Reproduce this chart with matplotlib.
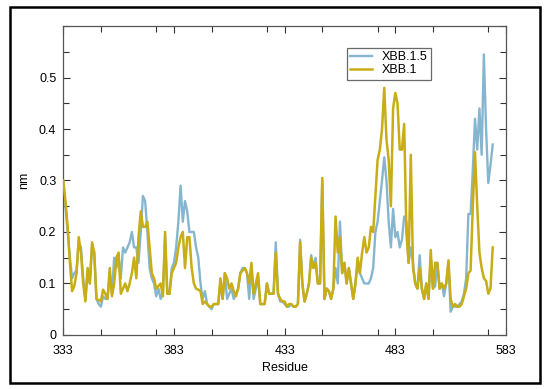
import numpy as np
import matplotlib
matplotlib.use("Agg")
import matplotlib.pyplot as plt
from matplotlib.patches import Rectangle
from matplotlib.ticker import MultipleLocator

plt.rcParams['font.family'] = ['Liberation Sans', 'DejaVu Sans']

first_residue = 333
xbb15 = [
    0.30, 0.25, 0.20, 0.15, 0.11, 0.12, 0.125, 0.18, 0.17, 0.11,   # 333-342
    0.07, 0.12, 0.10, 0.17, 0.16, 0.07, 0.06, 0.055, 0.075, 0.07,  # 343-352
    0.07, 0.12, 0.08, 0.15, 0.13, 0.15, 0.11, 0.17, 0.16, 0.17,    # 353-362
    0.18, 0.20, 0.17, 0.17, 0.14, 0.20, 0.27, 0.26, 0.20, 0.13,    # 363-372
    0.11, 0.10, 0.075, 0.09, 0.07, 0.08, 0.19, 0.08, 0.08, 0.13,   # 373-382
    0.14, 0.17, 0.22, 0.29, 0.22, 0.26, 0.24, 0.20, 0.20, 0.20,    # 383-392
    0.17, 0.15, 0.10, 0.07, 0.085, 0.06, 0.055, 0.05, 0.06, 0.06,  # 393-402
    0.06, 0.10, 0.07, 0.12, 0.07, 0.08, 0.09, 0.07, 0.08, 0.09,    # 403-412
    0.12, 0.13, 0.13, 0.12, 0.07, 0.13, 0.07, 0.09, 0.11, 0.06,    # 413-422
    0.06, 0.06, 0.10, 0.08, 0.08, 0.08, 0.18, 0.08, 0.065, 0.065,  # 423-432
    0.06, 0.055, 0.055, 0.06, 0.055, 0.055, 0.06, 0.185, 0.10, 0.065,  # 433-442
    0.08, 0.10, 0.155, 0.13, 0.15, 0.10, 0.10, 0.30, 0.07, 0.09,   # 443-452
    0.085, 0.07, 0.09, 0.13, 0.10, 0.22, 0.12, 0.14, 0.10, 0.13,   # 453-462
    0.10, 0.07, 0.10, 0.14, 0.12, 0.11, 0.10, 0.10, 0.10, 0.11,    # 463-472
    0.13, 0.20, 0.22, 0.26, 0.30, 0.345, 0.30, 0.22, 0.17, 0.245,  # 473-482
    0.19, 0.20, 0.17, 0.185, 0.23, 0.22, 0.14, 0.17, 0.14, 0.10,   # 483-492
    0.09, 0.155, 0.09, 0.07, 0.10, 0.07, 0.15, 0.09, 0.095, 0.14,  # 493-502
    0.09, 0.10, 0.075, 0.10, 0.14, 0.045, 0.055, 0.055, 0.055, 0.06,  # 503-512
    0.065, 0.08, 0.11, 0.235, 0.235, 0.32, 0.42, 0.36, 0.44, 0.35,   # 513-522
    0.545, 0.40, 0.295, 0.33, 0.37,                                  # 523-527
]
xbb1 = [
    0.30, 0.26, 0.21, 0.14, 0.085, 0.095, 0.12, 0.19, 0.16, 0.10,  # 333-342
    0.065, 0.13, 0.10, 0.18, 0.16, 0.07, 0.068, 0.065, 0.088, 0.08,  # 343-352
    0.07, 0.13, 0.075, 0.10, 0.15, 0.16, 0.08, 0.09, 0.10, 0.085,  # 353-362
    0.10, 0.12, 0.15, 0.11, 0.19, 0.24, 0.21, 0.21, 0.22, 0.17,    # 363-372
    0.12, 0.11, 0.09, 0.095, 0.10, 0.075, 0.20, 0.08, 0.08, 0.12,  # 373-382
    0.13, 0.14, 0.17, 0.19, 0.20, 0.13, 0.19, 0.19, 0.13, 0.10,    # 383-392
    0.09, 0.088, 0.085, 0.06, 0.065, 0.06, 0.055, 0.055, 0.06, 0.06,  # 393-402
    0.06, 0.11, 0.07, 0.12, 0.11, 0.09, 0.10, 0.085, 0.075, 0.09,  # 403-412
    0.12, 0.125, 0.13, 0.12, 0.10, 0.14, 0.08, 0.10, 0.12, 0.06,   # 413-422
    0.06, 0.06, 0.10, 0.08, 0.08, 0.08, 0.16, 0.08, 0.07, 0.065,   # 423-432
    0.065, 0.055, 0.06, 0.06, 0.055, 0.055, 0.06, 0.18, 0.10, 0.065,  # 433-442
    0.08, 0.10, 0.15, 0.13, 0.14, 0.10, 0.10, 0.305, 0.07, 0.09,   # 443-452
    0.085, 0.07, 0.09, 0.23, 0.16, 0.19, 0.12, 0.14, 0.10, 0.13,   # 453-462
    0.10, 0.07, 0.10, 0.15, 0.12, 0.16, 0.19, 0.16, 0.17, 0.21,    # 463-472
    0.20, 0.27, 0.34, 0.36, 0.40, 0.48, 0.38, 0.34, 0.25, 0.44,    # 473-482
    0.47, 0.45, 0.36, 0.36, 0.41, 0.20, 0.14, 0.35, 0.13, 0.10,    # 483-492
    0.09, 0.13, 0.09, 0.07, 0.10, 0.07, 0.165, 0.09, 0.14, 0.14,   # 493-502
    0.09, 0.10, 0.09, 0.10, 0.145, 0.07, 0.055, 0.06, 0.055, 0.055,  # 503-512
    0.06, 0.075, 0.09, 0.12, 0.125, 0.25, 0.355, 0.25, 0.16, 0.13,   # 513-522
    0.11, 0.105, 0.08, 0.09, 0.17,                                   # 523-527
]
xtick_pos = [333, 383, 433, 483, 533]
xtick_labels = ['333', '383', '433', '483', '583']
ytick_pos = [0, 0.1, 0.2, 0.3, 0.4, 0.5]
ytick_labels = ['0', '0.1', '0.2', '0.3', '0.4', '0.5']

res15 = np.arange(first_residue, first_residue + len(xbb15))
res1 = np.arange(first_residue, first_residue + len(xbb1))

fig = plt.figure(figsize=(5.5, 3.89), dpi=100)
fig.patch.set_facecolor('white')
ax = fig.add_axes([0.115, 0.139, 0.805, 0.794])

ax.plot(res15, xbb15, color='#86b6cf', lw=1.7, label='XBB.1.5', zorder=2)
ax.plot(res1, xbb1, color='#c8ad14', lw=1.8, label='XBB.1', zorder=3)

ax.set_xlim(333, 533)
ax.set_ylim(0, 0.6)
ax.set_xticks(xtick_pos)
ax.set_xticklabels(xtick_labels)
ax.set_yticks(ytick_pos)
ax.set_yticklabels(ytick_labels)
ax.xaxis.set_minor_locator(MultipleLocator(25))
ax.yaxis.set_minor_locator(MultipleLocator(0.05))
ax.tick_params(which='both', direction='in', top=True, right=True,
               labelsize=9, colors='#333333', labelcolor='black', width=0.8)
ax.tick_params(which='major', length=5)
ax.tick_params(which='minor', length=4)
ax.tick_params(axis='x', which='major', pad=7)
ax.tick_params(axis='y', which='major', pad=5)
for s in ax.spines.values():
    s.set_color('#555555')
    s.set_linewidth(0.9)

ax.set_xlabel('Residue', fontsize=9, labelpad=4)
ax.set_ylabel('nm', fontsize=9, labelpad=6)

leg = ax.legend(loc='upper left', bbox_to_anchor=(0.64, 0.93), fontsize=9,
                frameon=True, fancybox=False, handlelength=1.7, handletextpad=0.8,
                borderpad=0.3, labelspacing=0.05, borderaxespad=0)
leg.get_frame().set_edgecolor('#444444')
leg.get_frame().set_linewidth(0.9)

fig.patches.append(Rectangle((10 / 550, 1 - 383 / 389), 530 / 550, 376 / 389,
                             transform=fig.transFigure, fill=False,
                             edgecolor='black', linewidth=1.8, zorder=10))

fig.savefig('out.png', dpi=100, facecolor='white')
